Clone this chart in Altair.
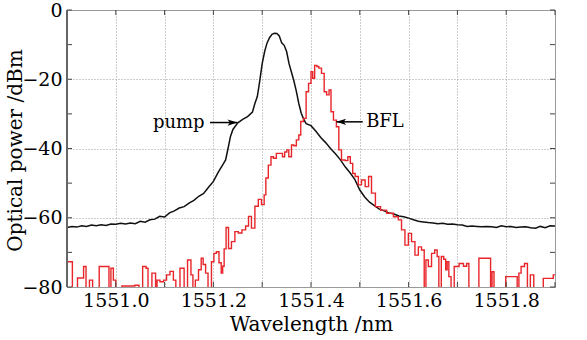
import altair as alt
import pandas as pd

# ---- data ----
pump_wl = [1550.90, 1550.91, 1550.92, 1550.93, 1550.94, 1550.95, 1550.96, 1550.97, 1550.98, 1550.99,
           1551.00, 1551.01, 1551.02, 1551.03, 1551.04, 1551.05, 1551.06, 1551.07, 1551.08, 1551.09,
           1551.10, 1551.11, 1551.12, 1551.13, 1551.14, 1551.15, 1551.16, 1551.17, 1551.18, 1551.19,
           1551.20, 1551.21, 1551.22, 1551.225, 1551.23, 1551.235, 1551.24, 1551.25, 1551.26, 1551.27,
           1551.28, 1551.285, 1551.29, 1551.295, 1551.30, 1551.305, 1551.31, 1551.315, 1551.32, 1551.325,
           1551.33, 1551.335, 1551.34, 1551.345, 1551.35, 1551.355, 1551.36, 1551.365, 1551.37, 1551.375,
           1551.38, 1551.385, 1551.39, 1551.40, 1551.41, 1551.42, 1551.43, 1551.44, 1551.45, 1551.46,
           1551.47, 1551.48, 1551.49, 1551.50, 1551.51, 1551.52, 1551.53, 1551.54, 1551.55, 1551.56,
           1551.57, 1551.58, 1551.59, 1551.60, 1551.61, 1551.62, 1551.63, 1551.64, 1551.65, 1551.66,
           1551.67, 1551.68, 1551.69, 1551.70, 1551.71, 1551.72, 1551.73, 1551.74, 1551.75, 1551.76,
           1551.77, 1551.78, 1551.79, 1551.80, 1551.81, 1551.82, 1551.83, 1551.84, 1551.85, 1551.86,
           1551.87, 1551.88, 1551.89, 1551.90]
pump_db = [-62.8, -62.5, -62.7, -62.3, -62.5, -62.1, -62.3, -62.0, -62.2, -61.8,
           -61.9, -61.6, -61.8, -61.5, -61.7, -61.0, -61.3, -60.6, -60.4, -59.6,
           -59.8, -58.6, -58.0, -57.2, -56.8, -55.8, -55.0, -53.8, -53.0, -51.2,
           -49.5, -46.8, -44.5, -43.3, -40.0, -36.5, -34.5, -32.6, -31.6, -30.8,
           -29.5, -27.0, -25.0, -20.5, -15.5, -12.0, -9.5, -8.0, -7.0, -6.7,
           -6.8, -7.5, -9.5, -10.2, -12.0, -15.5, -18.0, -20.5, -23.5, -27.0,
           -29.8, -31.5, -32.8, -33.4, -35.0, -36.8, -38.3, -40.0, -41.5, -43.2,
           -45.3, -47.0, -49.0, -52.0, -54.0, -55.5, -56.5, -57.5, -58.0, -58.6,
           -58.9, -59.5, -59.7, -60.1, -60.6, -61.0, -61.2, -61.4, -61.5, -61.7,
           -61.6, -61.9, -61.8, -62.0, -62.1, -62.5, -62.4, -62.5, -62.6, -62.5,
           -62.6, -62.8, -62.3, -62.6, -62.5, -62.8, -62.7, -62.6, -62.9, -63.0,
           -62.5, -62.9, -62.3, -62.4]

bfl_wl = [1550.900, 1550.910, 1550.912, 1550.931, 1550.937, 1550.941, 1550.951, 1550.954, 1550.978, 1550.984,
          1550.988, 1550.992, 1550.998, 1551.002, 1551.023, 1551.033, 1551.045, 1551.050, 1551.060, 1551.064,
          1551.068, 1551.080, 1551.083, 1551.086, 1551.095, 1551.101, 1551.107, 1551.115, 1551.121, 1551.125,
          1551.138, 1551.142, 1551.152, 1551.156, 1551.160, 1551.166, 1551.173, 1551.177, 1551.181, 1551.187,
          1551.191, 1551.193, 1551.199, 1551.203, 1551.209, 1551.214, 1551.218, 1551.220, 1551.224, 1551.228,
          1551.234, 1551.240, 1551.248, 1551.254, 1551.263, 1551.269, 1551.275, 1551.281, 1551.289, 1551.295,
          1551.302, 1551.306, 1551.309, 1551.316, 1551.320, 1551.326, 1551.332, 1551.340, 1551.343, 1551.349,
          1551.352, 1551.357, 1551.363, 1551.367, 1551.373, 1551.377, 1551.381, 1551.388, 1551.392, 1551.398,
          1551.402, 1551.405, 1551.410, 1551.414, 1551.418, 1551.425, 1551.429, 1551.435, 1551.439, 1551.443,
          1551.449, 1551.455, 1551.459, 1551.466, 1551.474, 1551.477, 1551.484, 1551.487, 1551.494, 1551.500,
          1551.507, 1551.515, 1551.521, 1551.527, 1551.537, 1551.548, 1551.562, 1551.576, 1551.582, 1551.589,
          1551.596, 1551.603, 1551.609, 1551.617, 1551.623, 1551.630, 1551.634, 1551.637, 1551.644, 1551.650,
          1551.657, 1551.660, 1551.664, 1551.670, 1551.674, 1551.678, 1551.680, 1551.685, 1551.689, 1551.698,
          1551.709, 1551.716, 1551.722, 1551.725, 1551.763, 1551.767, 1551.769, 1551.773, 1551.777, 1551.821,
          1551.824, 1551.828, 1551.833, 1551.842, 1551.845, 1551.854, 1551.859, 1551.893, 1551.900]
bfl_db = [-72.7, -72.7, -90, -77.4, -74.1, -90, -78.0, -90, -74.1, -74.1,
          -90, -74.6, -78.0, -90, -79.7, -79.7, -79.5, -90, -74.1, -74.6,
          -90, -76.0, -90, -78.0, -78.5, -78.0, -76.5, -75.5, -78.0, -90,
          -74.6, -90, -72.2, -76.5, -90, -78.0, -75.0, -71.7, -73.5, -76.0,
          -80.5, -90, -72.7, -70.3, -69.8, -73.0, -76.0, -74.0, -69.0, -62.8,
          -68.9, -66.9, -64.0, -64.4, -63.5, -62.4, -59.6, -63.0, -56.7, -54.7,
          -56.2, -53.4, -48.5, -44.8, -42.4, -42.8, -41.4, -41.4, -42.4, -41.0,
          -40.4, -42.4, -39.0, -39.2, -37.5, -36.1, -32.2, -31.3, -23.6, -21.2,
          -17.8, -19.7, -16.0, -16.3, -16.8, -18.3, -23.6, -24.5, -23.1, -29.4,
          -31.8, -33.7, -40.4, -43.3, -43.5, -42.4, -44.3, -47.2, -48.1, -50.5,
          -49.1, -51.0, -48.1, -52.9, -56.8, -57.8, -58.7, -59.7, -60.6, -63.5,
          -67.9, -64.5, -66.9, -70.8, -68.4, -69.3, -90, -72.2, -74.1, -70.3,
          -69.3, -71.2, -90, -71.2, -72.0, -75.0, -72.7, -77.0, -90, -74.1,
          -73.2, -74.0, -73.2, -90, -71.7, -71.7, -90, -75.6, -90, -77.0,
          -90, -76.0, -74.1, -73.2, -90, -76.5, -90, -77.5, -76.5]

x_ticks = [1550.9, 1551.0, 1551.1, 1551.2, 1551.3, 1551.4, 1551.5, 1551.6, 1551.7, 1551.8, 1551.9]
y_ticks = [-80, -70, -60, -50, -40, -30, -20, -10, 0]

ann_label = ["pump", "BFL"]
ann_text_x = [1551.182, 1551.513]
ann_tail_x = [1551.193, 1551.506]
ann_head_x = [1551.249, 1551.452]
ann_y = [-32.5, -32.3]

FONT = "DejaVu Serif"

pump = pd.DataFrame({"wl": pump_wl, "db": pump_db})
bfl = pd.DataFrame({"wl": bfl_wl, "db": bfl_db})
ann = pd.DataFrame({"label": ann_label, "tx": ann_text_x, "x1": ann_tail_x,
                    "x2": ann_head_x, "y": ann_y})
xt = pd.DataFrame({"v": x_ticks})
yt = pd.DataFrame({"v": y_ticks})

xscale = alt.Scale(domain=[1550.9, 1551.9], nice=False, zero=False)
yscale = alt.Scale(domain=[-80, 0], nice=False, zero=False)

xaxis = alt.Axis(values=x_ticks, format=".1f", title="Wavelength /nm",
                 labelExpr="round(datum.value*10) % 2 == 0 ? datum.label : ''",
                 grid=True, gridDash=[1, 2], gridColor="#9a9a9a", gridWidth=1,
                 ticks=False, domain=False, labelPadding=4, labelFontSize=19,
                 titleFontSize=20, titleFontWeight="normal", titleY=37,
                 titleBaseline="middle", labelFont=FONT, titleFont=FONT,
                 labelColor="black", titleColor="black")
yaxis = alt.Axis(values=y_ticks, title="Optical power /dBm",
                 labelExpr="datum.value % 20 == 0 ? datum.label : ''",
                 grid=True, gridDash=[1, 2], gridColor="#9a9a9a", gridWidth=1,
                 ticks=False, domain=False, labelPadding=5, labelFontSize=19,
                 titleFontSize=20, titleFontWeight="normal", titleX=-52, titleY=140,
                 titleAngle=-90, titleAlign="center", titleBaseline="middle",
                 labelFont=FONT, titleFont=FONT, labelColor="black", titleColor="black")

line_pump = alt.Chart(pump).mark_line(clip=True, color="#111111",
                                      strokeWidth=1.5).encode(
    x=alt.X("wl:Q", scale=xscale, axis=xaxis),
    y=alt.Y("db:Q", scale=yscale, axis=yaxis))

line_bfl = alt.Chart(bfl).mark_line(interpolate="step", clip=True, color="#e8262a",
                                    strokeWidth=1.4).encode(
    x=alt.X("wl:Q", scale=xscale),
    y=alt.Y("db:Q", scale=yscale))

# inward tick marks on all four sides
tick_col = "#444444"
t_bottom = alt.Chart(xt).mark_rule(color=tick_col, strokeWidth=1).encode(
    x=alt.X("v:Q", scale=xscale), y=alt.value(277), y2=alt.value(272))
t_top = alt.Chart(xt).mark_rule(color=tick_col, strokeWidth=1).encode(
    x=alt.X("v:Q", scale=xscale), y=alt.value(0), y2=alt.value(5))
t_left = alt.Chart(yt).mark_rule(color=tick_col, strokeWidth=1).encode(
    y=alt.Y("v:Q", scale=yscale), x=alt.value(0), x2=alt.value(5))
t_right = alt.Chart(yt).mark_rule(color=tick_col, strokeWidth=1).encode(
    y=alt.Y("v:Q", scale=yscale), x=alt.value(488), x2=alt.value(483))
left_axis = alt.Chart(yt).mark_rule(color="#666666", strokeWidth=1).encode(
    x=alt.value(0), y=alt.value(0), y2=alt.value(277))

shafts = alt.Chart(ann).mark_rule(color="black", strokeWidth=1.5).encode(
    x=alt.X("x1:Q", scale=xscale), x2="x2:Q", y=alt.Y("y:Q", scale=yscale))

head_r = alt.Chart(ann[ann.label == "pump"]).mark_point(
    shape="M 0 0 L -1 -0.32 L -0.75 0 L -1 0.32 Z", size=380, filled=True,
    color="black", opacity=1).encode(
    x=alt.X("x2:Q", scale=xscale), y=alt.Y("y:Q", scale=yscale))
head_l = alt.Chart(ann[ann.label == "BFL"]).mark_point(
    shape="M 0 0 L 1 -0.32 L 0.75 0 L 1 0.32 Z", size=380, filled=True,
    color="black", opacity=1).encode(
    x=alt.X("x2:Q", scale=xscale), y=alt.Y("y:Q", scale=yscale))

txt_r = alt.Chart(ann[ann.label == "pump"]).mark_text(
    font=FONT, fontSize=18, align="right", baseline="middle", color="black").encode(
    x=alt.X("tx:Q", scale=xscale), y=alt.Y("y:Q", scale=yscale), text="label:N")
txt_l = alt.Chart(ann[ann.label == "BFL"]).mark_text(
    font=FONT, fontSize=18, align="left", baseline="middle", color="black").encode(
    x=alt.X("tx:Q", scale=xscale), y=alt.Y("y:Q", scale=yscale), text="label:N")

chart = alt.layer(line_pump, line_bfl, t_bottom, t_top, t_left, t_right, left_axis,
                  shafts, head_r, head_l, txt_r, txt_l).properties(
    width=488, height=277,
    autosize=alt.AutoSizeParams(type="none"),
    padding={"left": 67, "top": 10, "right": 32, "bottom": 53},
    background="white",
).configure_view(stroke="#999999", strokeWidth=1)

chart.save("out.html", embed_options={"renderer": "svg", "actions": False})
